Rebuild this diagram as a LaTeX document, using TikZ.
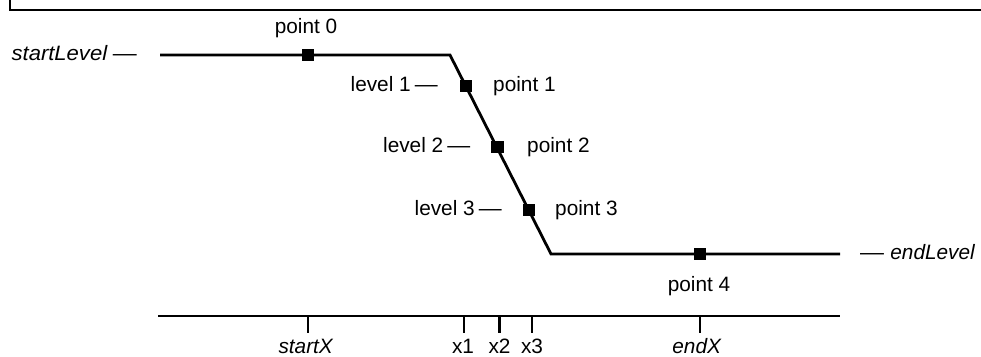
\documentclass[tikz,border=0pt]{standalone}
\usepackage{fontspec}
\setmainfont{Liberation Sans}
\begin{document}
\begin{tikzpicture}[x=1pt,y=-1pt,
  lbl/.style={inner sep=0pt,font=\fontsize{20.8}{24}\selectfont},
  mk/.style={rectangle,fill=black,draw=none,inner sep=0pt,minimum size=12.5pt},
  ln/.style={line width=2.8pt},
  frameline/.style={line width=1.6pt}]
\useasboundingbox (0,0) rectangle (981,356);
% frame
\coordinate (f0) at (10,-2);
\coordinate (f1) at (10,10);
\coordinate (f2) at (983,10);
\draw[frameline] (f0) -- (f1) -- (f2);
% level curve
\coordinate (a) at (160,55);
\coordinate (b) at (450,55);
\coordinate (c) at (551,254);
\coordinate (d) at (840,254);
\draw[ln,line join=miter] (a) -- (b) -- (c) -- (d);
\node[mk] (p0) at (308,55) {};
\node[mk] (p1) at (466,86) {};
\node[mk] (p2) at (497.5,147) {};
\node[mk] (p3) at (529,210) {};
\node[mk] (p4) at (700,254) {};
% labels
\node[lbl,anchor=base] (t0) at (306,33) {point 0};
\node[lbl,anchor=base west] (t1) at (493,91.7) {point 1};
\node[lbl,anchor=base west] (t2) at (527,152.7) {point 2};
\node[lbl,anchor=base west] (t3) at (555,215.5) {point 3};
\node[lbl,anchor=base] (t4) at (699,291.7) {point 4};
\node[lbl,anchor=base east] (sl) at (137,60) {\scalebox{1.06}[1]{\textit{startLevel}}\hspace{0.25em}\scalebox{1.15}[1]{—}};
\node[lbl,anchor=base west] (el) at (860,259.5) {\scalebox{1.15}[1]{—}\hspace{0.3em}\textit{endLevel}};
\node[lbl,anchor=base east] (l1) at (438,91.7) {level 1\hspace{0.2em}\scalebox{1.1}[1]{—}};
\node[lbl,anchor=base east] (l2) at (470.5,152.7) {level 2\hspace{0.2em}\scalebox{1.1}[1]{—}};
\node[lbl,anchor=base east] (l3) at (502,215.5) {level 3\hspace{0.2em}\scalebox{1.1}[1]{—}};
% axis
\coordinate (ax0) at (158,316);
\coordinate (ax1) at (840,316);
\draw[ln] (ax0) -- (ax1);
\foreach \n/\x in {tS/308,tA/464,tB/499.5,tC/532,tE/700}{
  \coordinate (\n) at (\x,316);
  \draw[ln] (\n) -- ++(0,17);
}
\node[lbl,anchor=base] (xs) at (306,353) {\textit{startX}};
\node[lbl,anchor=base] (x1) at (463,353) {x1};
\node[lbl,anchor=base] (x2) at (499.5,353) {x2};
\node[lbl,anchor=base] (x3) at (532,353) {x3};
\node[lbl,anchor=base] (xe) at (697,353) {\textit{endX}};
\end{tikzpicture}
\end{document}
